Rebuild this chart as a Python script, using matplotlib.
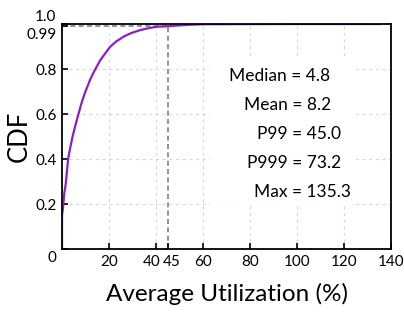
import matplotlib.pyplot as plt
import matplotlib.transforms as mtransforms

plt.rcParams['font.family'] = ['Lato', 'DejaVu Sans']

# CDF
util = [0, 0, 0.3, 0.55, 1.0, 1.6, 2.6, 3.5, 4.5, 5.7, 7.0, 8.2, 9.6, 11.9,
        13.2, 16.3, 20.5, 23, 26.2, 29.5, 33.3, 37, 40.4, 45, 50, 55, 60,
        73.2, 100, 135.3]
cdf = [0, 0.15, 0.173, 0.20, 0.25, 0.29, 0.40, 0.45, 0.50, 0.55, 0.60, 0.645,
       0.69, 0.751, 0.78, 0.84, 0.899, 0.922, 0.944, 0.96, 0.973, 0.982, 0.988,
       0.99, 0.994, 0.997, 0.999, 0.9995, 1.0, 1.0]

p99 = 45.0
stats = ['Median = 4.8', 'Mean = 8.2', 'P99 = 45.0', 'P999 = 73.2', 'Max = 135.3']
stat_x = [71, 77.5, 83, 78.5, 81.5]

xticks = [20, 40, 45, 60, 80, 100, 120, 140]
yticks = [0, 0.2, 0.4, 0.6, 0.8, 0.99, 1.0]
ylabels = ['0', '0.2', '0.4', '0.6', '0.8', '0.99', '1.0']

fig = plt.figure(figsize=(4.04, 3.12), dpi=100)
ax = fig.add_axes([0.1535, 0.2019, 0.8145, 0.7211])

for g in [20, 40, 60, 80, 100, 120]:
    ax.axvline(g, color='#d9d9d9', ls=(0, (3, 3)), lw=0.8, zorder=0)
for g in [0.2, 0.4, 0.6, 0.8]:
    ax.axhline(g, color='#d9d9d9', ls=(0, (3, 3)), lw=0.8, zorder=0)

ax.plot([0, p99], [0.99, 0.99], color='#808080', ls=(0, (3, 2)), lw=1.2, zorder=1)
ax.plot([p99, p99], [0, 0.99], color='#808080', ls=(0, (3, 2)), lw=1.2, zorder=1)

ax.plot(util, cdf, color='#8c1ec8', lw=1.6, zorder=3)

ax.set_xlim(0, 140)
ax.set_ylim(0, 1.0)
ax.set_xticks(xticks)
ax.set_xticklabels([str(t) for t in xticks])
ax.set_yticks(yticks)
ax.set_yticklabels(ylabels)
ax.tick_params(direction='in', length=4, width=1.2, labelsize=11, pad=4)

for s in ax.spines.values():
    s.set_linewidth(1.3)
    s.set_zorder(4)

# nudge the crowded tick labels apart
def shift(lab, dx, dy):
    lab.set_transform(lab.get_transform() +
                      mtransforms.ScaledTranslation(dx / 100, dy / 100, fig.dpi_scale_trans))

xl = ax.get_xticklabels()
shift(xl[1], -4, 0)
shift(xl[2], 4, 0)
yl = ax.get_yticklabels()
shift(yl[0], 0, -7)
shift(yl[5], 0, -7)
shift(yl[6], 0, 9)

ax.set_xlabel('Average Utilization (%)', fontsize=17.5, labelpad=10)
ax.set_ylabel('CDF', fontsize=18.5, va='center')
ax.yaxis.set_label_coords(-0.131, 0.5)

box = plt.Rectangle((63, 0.196), 61, 0.657, facecolor='white', edgecolor='none', zorder=0.5)
ax.add_patch(box)
for i, s in enumerate(stats):
    ax.text(stat_x[i], 0.767 - i * 0.128, s, fontsize=12.5, va='center', ha='left', zorder=5)

fig.savefig('out.png', dpi=100)
